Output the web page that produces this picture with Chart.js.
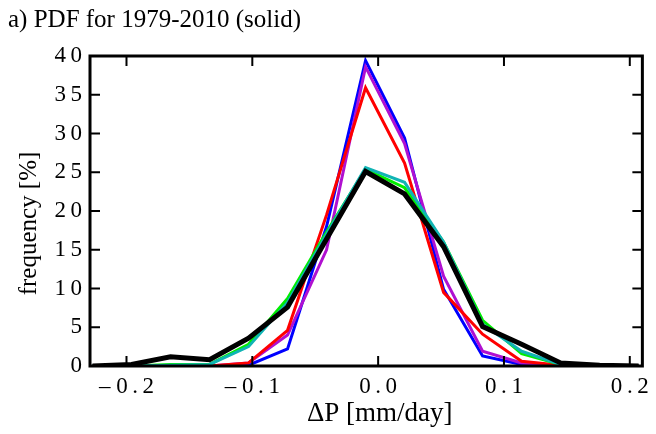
<!DOCTYPE html>
<html>
<head>
<meta charset="utf-8">
<script src="https://cdn.jsdelivr.net/npm/chart.js@4"></script>
<style>
  html, body { margin: 0; padding: 0; background: #fff; }
  #wrap { width: 656px; height: 434px; }
</style>
</head>
<body>
<div id="wrap"><canvas id="myChart"></canvas></div>
<script>
// bin centres (mm/day) and frequencies (%)
const binCentres = [-0.227, -0.196, -0.165, -0.134, -0.103, -0.072, -0.041, -0.010, 0.021, 0.052, 0.083, 0.114, 0.145, 0.176, 0.207];
const blackVals  = [0, 0.2, 1.2, 0.8, 3.6, 7.6, 16.4, 25.1, 22.2, 15.4, 5.1, 2.8, 0.4, 0.1, 0];
const cyanVals   = [0, 0, 0.1, 0.2, 2.5, 8.2, 17.0, 25.6, 23.7, 16.0, 5.4, 1.9, 0.2, 0, 0];
const greenVals  = [0, 0, 0.2, 0.2, 2.8, 8.7, 17.3, 25.4, 23.0, 16.0, 5.9, 1.6, 0.2, 0, 0];
const redVals    = [0, 0, 0, 0, 0.4, 4.6, 19.5, 35.9, 26.2, 9.5, 4.1, 0.6, 0.1, 0, 0];
const purpleVals = [0, 0, 0, 0, 0.4, 4.0, 15.0, 38.6, 28.7, 11.6, 1.9, 0.4, 0, 0, 0];
const blueVals   = [0, 0, 0, 0, 0.1, 2.2, 18.0, 39.4, 29.4, 9.9, 1.3, 0.2, 0, 0, 0];

const xTicks = [-0.2, -0.1, 0.0, 0.1, 0.2];
const yTicks = [0, 5, 10, 15, 20, 25, 30, 35, 40];

const serif = 'Liberation Serif';
const sp = '\u2009';

function pts(vals) {
  return binCentres.map((x, i) => ({ x: x, y: vals[i] }));
}

function series(vals, color, w) {
  return { data: pts(vals), borderColor: color, borderWidth: w, pointRadius: 0, tension: 0, fill: false };
}

function spaced(s) {
  return s.split('').join(sp);
}

// frame + inward ticks on all four sides
const frame = {
  id: 'frame',
  afterDatasetsDraw(chart) {
    const { ctx, chartArea: a, scales } = chart;
    ctx.save();
    ctx.strokeStyle = '#000';
    ctx.lineWidth = 2;
    xTicks.forEach(v => {
      const px = scales.x.getPixelForValue(v);
      ctx.beginPath();
      ctx.moveTo(px, a.bottom); ctx.lineTo(px, a.bottom - 10);
      ctx.moveTo(px, a.top); ctx.lineTo(px, a.top + 10);
      ctx.stroke();
    });
    yTicks.forEach(v => {
      const py = scales.y.getPixelForValue(v);
      ctx.beginPath();
      ctx.moveTo(a.left, py); ctx.lineTo(a.left + 10, py);
      ctx.moveTo(a.right, py); ctx.lineTo(a.right - 10, py);
      ctx.stroke();
    });
    ctx.lineWidth = 3;
    ctx.strokeRect(a.left, a.top, a.right - a.left, a.bottom - a.top);
    ctx.restore();
  }
};

const chart = new Chart(document.getElementById('myChart'), {
  type: 'line',
  data: {
    datasets: [
      series(blackVals, '#000000', 5),
      series(cyanVals, '#10b4b4', 3),
      series(greenVals, '#00ee00', 3),
      series(redVals, '#ff0000', 3),
      series(purpleVals, '#b010d0', 3),
      series(blueVals, '#0000ff', 3)
    ]
  },
  options: {
    responsive: true,
    maintainAspectRatio: false,
    animation: false,
    events: [],
    layout: { padding: { top: 0, right: 10, left: 8, bottom: 0 } },
    plugins: {
      legend: { display: false },
      tooltip: { enabled: false },
      title: {
        display: true,
        text: 'a) PDF for 1979-2010 (solid)',
        align: 'start',
        color: '#000',
        font: { family: serif, size: 25, weight: 'normal' },
        padding: { top: 5, bottom: 21 }
      }
    },
    scales: {
      x: {
        type: 'linear',
        min: -0.229,
        max: 0.21,
        afterBuildTicks(scale) { scale.ticks = xTicks.map(v => ({ value: v })); },
        afterFit(scale) { scale.height = 68; },
        grid: { display: false, drawTicks: false },
        border: { display: false },
        ticks: {
          padding: 7,
          color: '#000',
          font: { family: serif, size: 23 },
          maxRotation: 0,
          callback(v) {
            const s = spaced(Math.abs(v).toFixed(1));
            return v < 0 ? '\u2013 ' + s : s;
          }
        },
        title: {
          display: true,
          text: '\u2003\u0394P [mm/day]',
          color: '#000',
          font: { family: serif, size: 27 },
          padding: { top: 0, bottom: 4 }
        }
      },
      y: {
        min: 0,
        max: 40,
        afterBuildTicks(scale) { scale.ticks = yTicks.map(v => ({ value: v })); },
        afterFit(scale) { scale.width = 82; },
        grid: { display: false, drawTicks: false },
        border: { display: false },
        ticks: {
          padding: 8,
          color: '#000',
          font: { family: serif, size: 23 },
          callback(v) { return spaced(String(v)); }
        },
        title: {
          display: true,
          text: 'frequency [%]\u2003',
          color: '#000',
          font: { family: serif, size: 25 },
          padding: { top: 6, bottom: 0 }
        }
      }
    }
  },
  plugins: [frame]
});
</script>
</body>
</html>
